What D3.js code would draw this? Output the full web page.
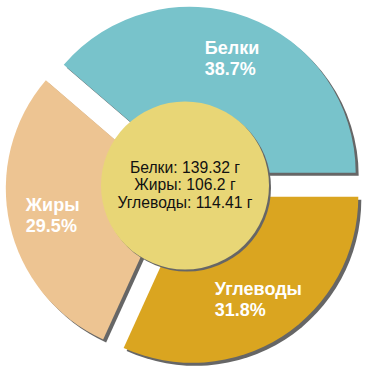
<!DOCTYPE html>
<html>
<head>
<meta charset="utf-8">
<script src="https://cdn.jsdelivr.net/npm/d3@7"></script>
<style>
html,body{margin:0;padding:0;background:#fff;}
svg{display:block;font-family:"Liberation Sans",Arial,sans-serif;}
</style>
</head>
<body>
<svg id="chart" width="370" height="370"></svg>
<script>
const categories = ["Белки", "Жиры", "Углеводы"];
const grams = [139.32, 106.2, 114.41];
const percents = ["38.7%", "29.5%", "31.8%"];
const colors = ["#78c3cb", "#edc492", "#daa520"];
const centerLines = ["Белки: 139.32 г", "Жиры: 106.2 г", "Углеводы: 114.41 г"];

const svg = d3.select("#chart");
const cx = 185, cy = 185.5, R = 166, explode = 13.5, labelR = 122, innerCircleR = 84;
const shadowDx = 3, shadowDy = 3;

const data = categories.map((c, i) => ({name: c, value: grams[i], pct: percents[i], color: colors[i]}));
const pie = d3.pie().sort(null).value(d => d.value)
  .startAngle(Math.PI / 2).endAngle(Math.PI / 2 - 2 * Math.PI);
const arcs = pie(data);
const arc = d3.arc().innerRadius(0).outerRadius(R);

function offset(a) {
  const m = (a.startAngle + a.endAngle) / 2;
  return [Math.sin(m) * explode, -Math.cos(m) * explode];
}

const g = svg.append("g").attr("transform", `translate(${cx},${cy})`);

// shadows
g.selectAll("path.shadow").data(arcs).join("path")
  .attr("class", "shadow")
  .attr("d", arc)
  .attr("fill", "#666")
  .attr("transform", d => { const o = offset(d); return `translate(${o[0] + shadowDx},${o[1] + shadowDy})`; });

// slices
g.selectAll("path.slice").data(arcs).join("path")
  .attr("class", "slice")
  .attr("d", arc)
  .attr("fill", d => d.data.color)
  .attr("transform", d => { const o = offset(d); return `translate(${o[0]},${o[1]})`; });

// slice labels
const lineH = 21;
arcs.forEach(a => {
  const m = (a.startAngle + a.endAngle) / 2;
  const o = offset(a);
  const lx = o[0] + Math.sin(m) * labelR;
  const ly = o[1] - Math.cos(m) * labelR;
  const t = g.append("text")
    .attr("fill", "#fff")
    .attr("font-weight", "bold")
    .attr("font-size", 18);
  const lines = [a.data.name, a.data.pct];
  const spans = lines.map((s, i) => t.append("tspan").text(s));
  const w = Math.max(...spans.map(s => s.node().getComputedTextLength()));
  spans.forEach((s, i) => {
    s.attr("x", lx - w / 2).attr("y", ly + (i - 0.5) * lineH + 6.5);
  });
});

// center circle shadow and circle
g.append("circle").attr("cx", shadowDx - 1).attr("cy", shadowDy - 1).attr("r", innerCircleR).attr("fill", "#666");
g.append("circle").attr("cx", 0).attr("cy", 0).attr("r", innerCircleR).attr("fill", "#e8d676");

const ct = g.append("text").attr("text-anchor", "middle").attr("font-size", 15.7).attr("fill", "#111");
centerLines.forEach((s, i) => {
  ct.append("tspan").attr("x", 0).attr("y", (i - 1) * 17.5 + 4.5).text(s);
});
</script>
</body>
</html>
